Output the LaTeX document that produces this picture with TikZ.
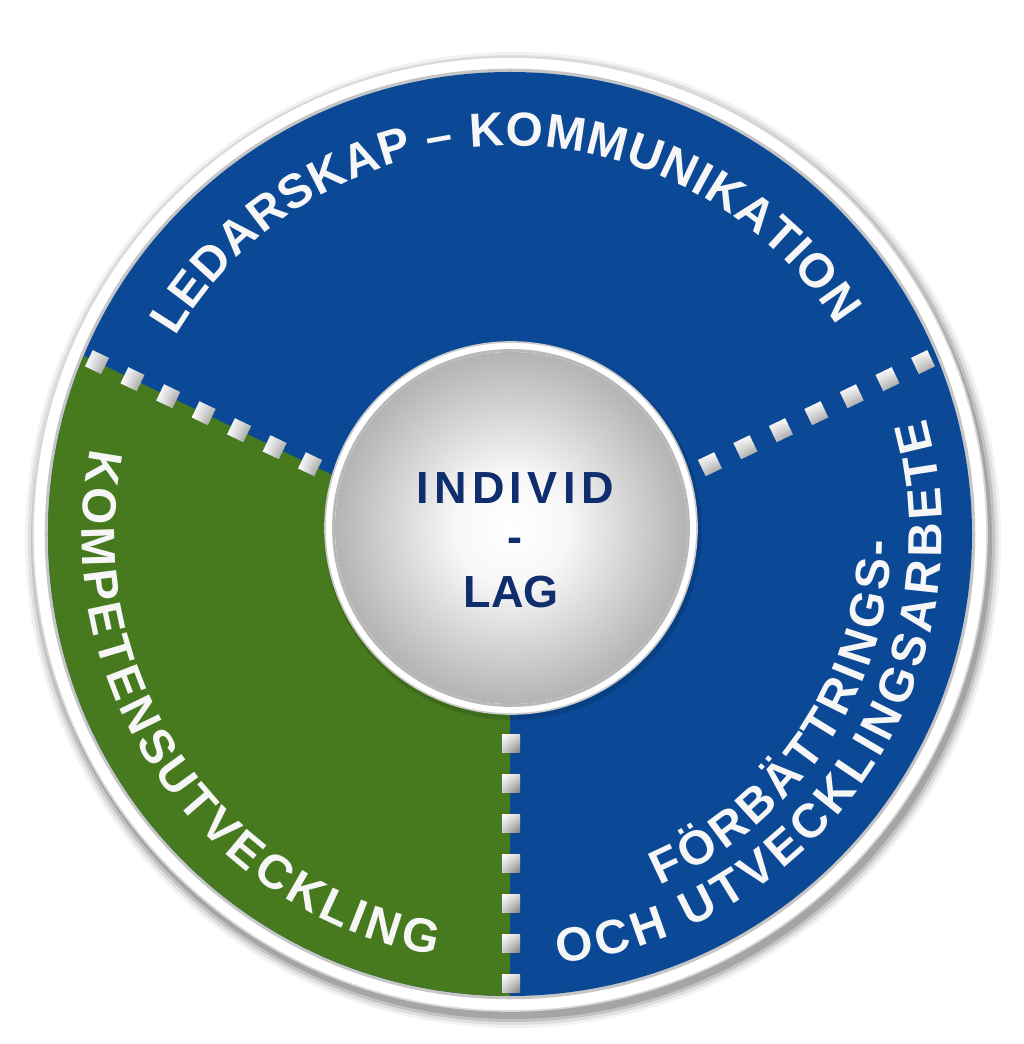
\documentclass[tikz,border=0pt]{standalone}
\usepackage{fontspec}
\setmainfont{Liberation Sans}
\newfontfamily\arcfont{Liberation Sans Bold}
\newfontfamily\ctrfont[LetterSpace=12]{Liberation Sans Bold}
\newfontfamily\ctrfontb{Liberation Sans Bold}
\usetikzlibrary{decorations.text,shadings}
\definecolor{mblue}{RGB}{11,73,150}
\definecolor{mgreen}{RGB}{71,122,31}
\definecolor{navy}{RGB}{16,46,110}
\definecolor{rimtext}{RGB}{246,246,246}
\pgfdeclareradialshading{sphere}{\pgfpoint{0bp}{0bp}}{color(0bp)=(white); color(8bp)=(white!97!black); color(24bp)=(white!72!black); color(40bp)=(white!47!black); color(50bp)=(white!34!black)}
\newcommand\ringtext[4]{%
  \path[decorate, decoration={text along path, text align=fit to path, text color=rimtext,
    text={|\arcfont\fontsize{34}{40}\selectfont|#4}}] (#1:#3) arc[start angle=#1, end angle=#2, radius=#3];
}
\tikzset{
  sqa/.style={upper left=white, lower left=white, upper right=white!82!black, lower right=white!50!black},
  sqb/.style={upper left=white, upper right=white, lower left=white!82!black, lower right=white!50!black},
  sqc/.style={upper left=white, upper right=white!85!black, lower left=white!82!black, lower right=white!50!black},
}
\begin{document}
\begin{tikzpicture}[x=0.025cm,y=0.025cm]
\useasboundingbox (-510,-510) rectangle (514,534);
\fill[white] (-510,-510) rectangle (514,534);
% outer shadow
\foreach \r/\o in {488/0.05, 485/0.08, 482/0.12, 479/0.15} \fill[black, opacity=\o] (3,-6) circle[radius=\r];
% white rim
\fill[white] (0,0) circle[radius=477];
\draw[gray!30, line width=1.2] (0,0) circle[radius=477];
\draw[gray!45, line width=2.5] (0,0) circle[radius=463.5];
% coloured disc
\fill[mblue] (0,0) circle[radius=462];
\begin{scope}
  \clip (0,0) circle[radius=462];
  \fill[mgreen] (0,-26) -- (-631.3,276.5) -- (-700,-700) -- (0,-700) -- cycle;
\end{scope}
% dotted dividers
\begin{scope}[shift={(0,-26)}, rotate=-25.6]
  \foreach \d in {221.7,261,300.4,339.7,379,418.6,458}
    \shade[sqa] (-\d-9,-9) rectangle (-\d+9,9);
\end{scope}
\begin{scope}[shift={(0,-26)}, rotate=25.6]
  \foreach \d in {221.7,261,300.4,339.7,379,418.6,458}
    \shade[sqb] (\d-9,-9) rectangle (\d+9,9);
\end{scope}
\begin{scope}[shift={(1,-26)}]
  \foreach \d in {183,223,263,303,343,383,423}
    \shade[sqc] (-9,-\d-9) rectangle (9,-\d+9);
\end{scope}
% ring texts
\ringtext{149.5}{32.5}{388}{LEDARSKAP – KOMMUNIKATION}
\ringtext{168.5}{260}{428}{KOMPETENSUTVECKLING}
\ringtext{293}{359}{382}{FÖRBÄTTRINGS-}
\ringtext{276.4}{375.5}{432}{OCH UTVECKLINGSARBETE}
% central sphere
\fill[black, opacity=0.12] (3,3) circle[radius=189];
\fill[white] (1,6) circle[radius=186];
\draw[gray!40, line width=1.2] (1,6) circle[radius=186];
\draw[gray!55, line width=2] (1,6) circle[radius=177.5];
\shade[shading=sphere] (1,6) circle[radius=176];
\node[text=navy, font=\ctrfont\fontsize{32}{36}\selectfont, inner sep=0pt] (ind) at (5,46) {INDIVID};
\node[text=navy, font=\ctrfontb\fontsize{32}{36}\selectfont, inner sep=0pt] (dash) at (5,-11) {-};
\node[text=navy, font=\ctrfontb\fontsize{32}{36}\selectfont, inner sep=0pt] (lag) at (1,-58) {LAG};
\end{tikzpicture}
\end{document}
